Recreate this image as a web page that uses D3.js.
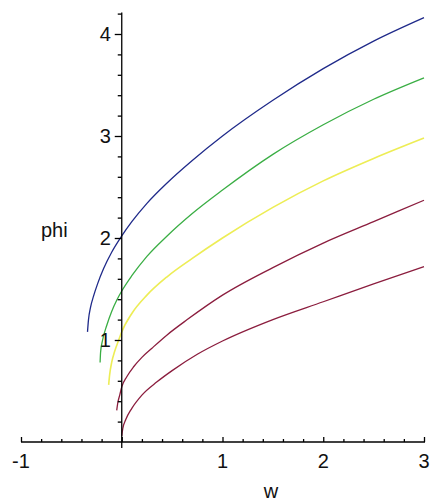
<!DOCTYPE html>
<html>
<head>
<meta charset="utf-8" />
<title>phi vs w</title>
<script src="https://cdn.jsdelivr.net/npm/d3@7"></script>
<style>
    body { margin:0; background:#fff; }
    svg text { font-family: "Liberation Sans", Arial, sans-serif; fill:#111; }
    .tick-label { font-size:20px; }
    .axis-label { font-size:20px; }
</style>
</head>
<body>
<svg id="chart" width="433" height="502"></svg>
<script>
// curve samples: w values and phi values, one pair of arrays per curve
var blueW   = [-0.34, -0.33, -0.31, -0.28, -0.24, -0.18, -0.1, 0, 0.1, 0.25, 0.45, 0.7, 1.0, 1.5, 2.0, 2.5, 3.0];
var bluePhi = [1.08, 1.2, 1.32, 1.43, 1.55, 1.7, 1.86, 2.02, 2.16, 2.34, 2.54, 2.76, 3.0, 3.35, 3.66, 3.93, 4.16];

var greenW   = [-0.215, -0.21, -0.19, -0.15, -0.1, -0.05, 0, 0.1, 0.25, 0.45, 0.7, 1.0, 1.5, 2.0, 2.5, 3.0];
var greenPhi = [0.78, 0.88, 1.0, 1.14, 1.28, 1.39, 1.48, 1.63, 1.82, 2.02, 2.24, 2.47, 2.82, 3.11, 3.36, 3.57];

var yellowW   = [-0.13, -0.12, -0.1, -0.07, -0.03, 0, 0.1, 0.25, 0.45, 0.7, 1.0, 1.5, 2.0, 2.5, 3.0];
var yellowPhi = [0.56, 0.66, 0.78, 0.89, 1.0, 1.08, 1.26, 1.44, 1.62, 1.8, 2.0, 2.3, 2.56, 2.78, 2.98];

var red1W   = [-0.05, -0.04, -0.02, 0, 0.05, 0.12, 0.2, 0.3, 0.45, 0.65, 1.0, 1.5, 2.0, 2.5, 3.0];
var red1Phi = [0.31, 0.38, 0.46, 0.54, 0.64, 0.74, 0.83, 0.92, 1.05, 1.2, 1.44, 1.71, 1.95, 2.16, 2.37];

var red2W   = [0, 0.01, 0.04, 0.1, 0.2, 0.35, 0.5, 0.75, 1.0, 1.5, 2.0, 2.5, 3.0];
var red2Phi = [0.06, 0.13, 0.22, 0.33, 0.46, 0.59, 0.7, 0.86, 0.99, 1.2, 1.375, 1.55, 1.72];

var curveColors = ["#1f2a8a", "#3aae44", "#eded55", "#8b1d3e", "#8b1d3e"];

var xMajor = [-1, 1, 2, 3];
var yMajor = [1, 2, 3, 4];

var svg = d3.select("#chart");

var x = d3.scaleLinear().domain([-1, 3]).range([21, 424]);
var y = d3.scaleLinear().domain([0, 4]).range([442, 34]);

var curves = [
    d3.zip(blueW, bluePhi),
    d3.zip(greenW, greenPhi),
    d3.zip(yellowW, yellowPhi),
    d3.zip(red1W, red1Phi),
    d3.zip(red2W, red2Phi)
];

var line = d3.line()
    .x(function(d) { return x(d[0]); })
    .y(function(d) { return y(d[1]); })
    .curve(d3.curveMonotoneX);

svg.selectAll(".curve")
    .data(curves)
    .enter().append("path")
    .attr("class", "curve")
    .attr("d", line)
    .attr("fill", "none")
    .attr("stroke", function(d, i) { return curveColors[i]; })
    .attr("stroke-width", function(d, i) { return i == 2 ? 1.6 : 1.3; });

// x axis, crossing at phi = 0
var xAxis = d3.axisTop(x).tickValues(d3.range(-1, 3.001, 0.2)).tickSize(3).tickFormat("");
var gx = svg.append("g").attr("transform", "translate(0," + y(0) + ")").call(xAxis);
gx.select(".domain").attr("d", "M" + x(-1) + ",0H" + (x(3) + 1));
gx.selectAll(".tick line")
    .attr("y2", function(d) { return Math.abs(d - Math.round(d)) < 1e-6 ? -5 : -3; });

// y axis, crossing at w = 0
var yAxis = d3.axisLeft(y).tickValues(d3.range(0.2, 4.201, 0.2)).tickSize(4).tickFormat("");
var gy = svg.append("g").attr("transform", "translate(" + x(0) + ",0)").call(yAxis);
gy.select(".domain").attr("d", "M0," + (y(0) + 6) + "V" + y(4.21));
gy.selectAll(".tick line")
    .attr("x2", function(d) { return Math.abs(d - Math.round(d)) < 1e-6 ? -7 : -4; });
svg.selectAll(".domain, .tick line").attr("stroke", "#000").attr("stroke-width", 1.3);

svg.selectAll(".xlab")
    .data(xMajor)
    .enter().append("text")
    .attr("class", "tick-label")
    .attr("x", function(d) { return x(d); })
    .attr("y", y(0) + 26)
    .attr("text-anchor", "middle")
    .text(function(d) { return d; });

svg.selectAll(".ylab")
    .data(yMajor)
    .enter().append("text")
    .attr("class", "tick-label")
    .attr("x", x(0) - 11)
    .attr("y", function(d) { return y(d) + 7; })
    .attr("text-anchor", "end")
    .text(function(d) { return d; });

svg.append("text")
    .attr("class", "axis-label")
    .attr("x", 41)
    .attr("y", 237)
    .text("phi");

svg.append("text")
    .attr("class", "axis-label")
    .attr("x", 271)
    .attr("y", 498)
    .attr("text-anchor", "middle")
    .text("w");
</script>
</body>
</html>
